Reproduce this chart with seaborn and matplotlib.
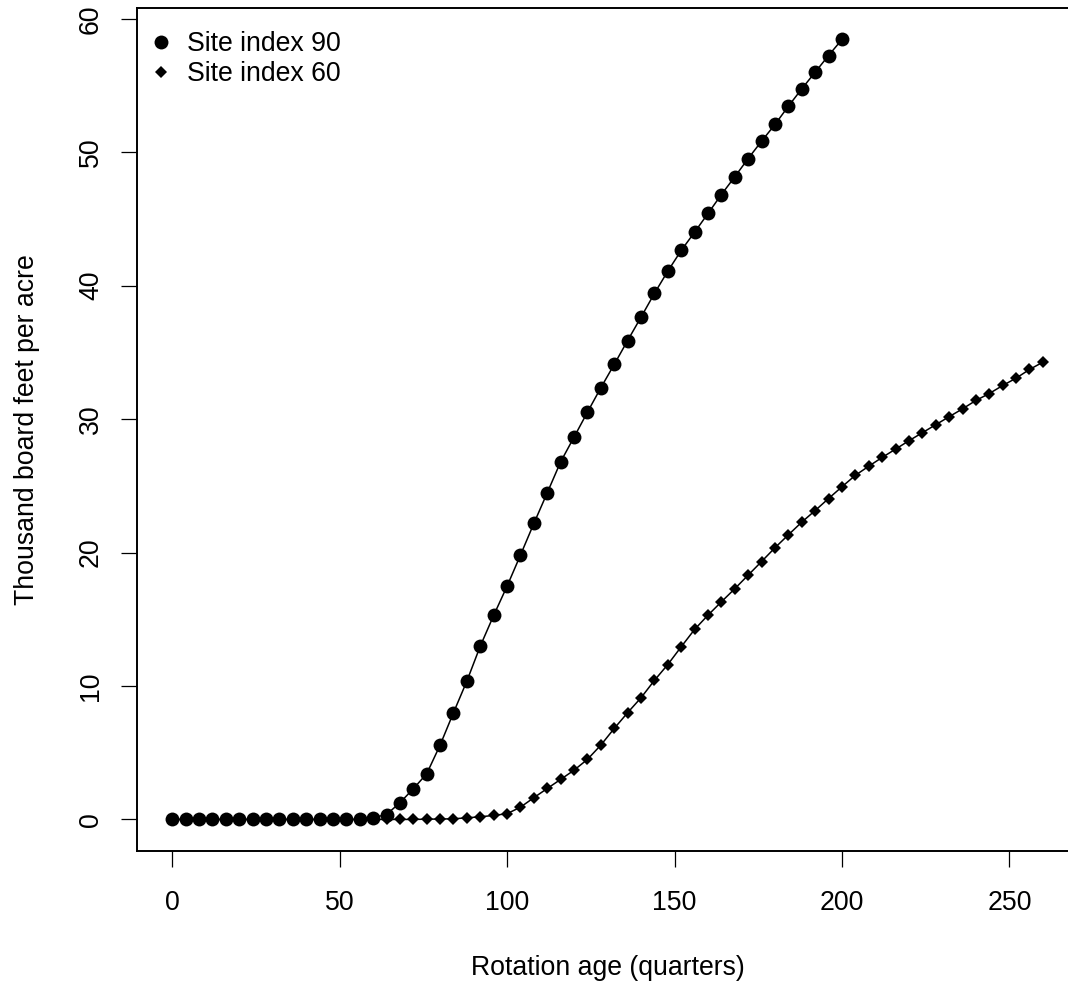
import matplotlib
matplotlib.use("Agg")
import matplotlib.pyplot as plt
from matplotlib.lines import Line2D
import seaborn as sns
import pandas as pd

# rotation age in quarters
ages_90 = list(range(0, 204, 4))
ages_60 = list(range(0, 264, 4))

# thousand board feet per acre
volume_90 = [0, 0, 0, 0, 0, 0, 0, 0, 0, 0, 0, 0, 0, 0, 0,
             0.13, 0.37, 1.25, 2.30, 3.42, 5.57, 8.00, 10.37, 12.99, 15.29,
             17.48, 19.81, 22.18, 24.48, 26.80, 28.65, 30.52, 32.35, 34.10,
             35.89, 37.64, 39.42, 41.09, 42.64, 44.01, 45.41, 46.83, 48.16,
             49.53, 50.83, 52.08, 53.45, 54.75, 56.00, 57.25, 58.45]
volume_60 = [0, 0, 0, 0, 0, 0, 0, 0, 0, 0, 0, 0, 0, 0, 0, 0, 0,
             0.0, 0.0, 0.02, 0.03, 0.05, 0.12, 0.20, 0.30, 0.43,
             0.92, 1.63, 2.32, 3.00, 3.69, 4.50, 5.57, 6.82, 8.00, 9.12,
             10.42, 11.61, 12.94, 14.24, 15.31, 16.31, 17.29, 18.31, 19.33,
             20.36, 21.33, 22.28, 23.15, 24.05, 24.93, 25.79, 26.47, 27.13,
             27.75, 28.38, 28.98, 29.58, 30.18, 30.77, 31.40, 31.92, 32.52,
             33.07, 33.72, 34.27]

labels = ["Site index 90", "Site index 60"]
x_ticks = [0, 50, 100, 150, 200, 250]
y_ticks = [0, 10, 20, 30, 40, 50, 60]

df90 = pd.DataFrame({"age": ages_90, "volume": volume_90})
df60 = pd.DataFrame({"age": ages_60, "volume": volume_60})

sns.set_style("ticks")
plt.rcParams["font.family"] = ["Liberation Sans", "DejaVu Sans"]
plt.rcParams["text.color"] = "black"
fs = 19.2
circle_size = 10.0
diamond_size = 6.0

fig = plt.figure(figsize=(10.68, 9.84), dpi=100)
# the reference is cropped on the right, so the axes run past the figure edge
ax = fig.add_axes([0.1286, 0.1355, 0.8805, 0.8561])

sns.lineplot(data=df90, x="age", y="volume", ax=ax, color="black",
             linewidth=1.1, marker="o", markersize=circle_size,
             markeredgewidth=0, estimator=None, sort=False)
sns.lineplot(data=df60, x="age", y="volume", ax=ax, color="black",
             linewidth=1.1, marker="D", markersize=diamond_size,
             markeredgewidth=0, estimator=None, sort=False)

ax.set_xlim(-10.4, 270.4)
ax.set_ylim(-2.34, 60.79)
ax.set_xticks(x_ticks)
ax.set_yticks(y_ticks)
ax.tick_params(axis="both", length=11.5, width=0.9, color="black",
               labelsize=fs, labelcolor="black")
ax.tick_params(axis="x", pad=17)
ax.tick_params(axis="y", pad=12.5)
for lab in ax.get_yticklabels():
    lab.set_rotation(90)
    lab.set_va("center")

for side in ["left", "bottom", "top", "right"]:
    ax.spines[side].set_visible(True)
    ax.spines[side].set_color("black")
    ax.spines[side].set_linewidth(1.4)

ax.set_xlabel("Rotation age (quarters)", fontsize=fs, color="black")
ax.set_ylabel("Thousand board feet per acre", fontsize=fs, color="black")
ax.xaxis.set_label_coords(0.5, -0.124)
ax.yaxis.set_label_coords(-0.104, 0.5)

handles = [
    Line2D([], [], linestyle="", marker="o", markersize=circle_size,
           markeredgewidth=0, color="black"),
    Line2D([], [], linestyle="", marker="D", markersize=diamond_size,
           markeredgewidth=0, color="black"),
]
ax.legend(handles, labels, loc="upper left", frameon=False, fontsize=fs,
          labelcolor="black",
          bbox_to_anchor=(148.2 / 1068, 1 - 31 / 984),
          bbox_transform=fig.transFigure, borderaxespad=0, borderpad=0,
          handlelength=0.95, handletextpad=0.52, labelspacing=0.15)

fig.savefig("out.png", dpi=100)
